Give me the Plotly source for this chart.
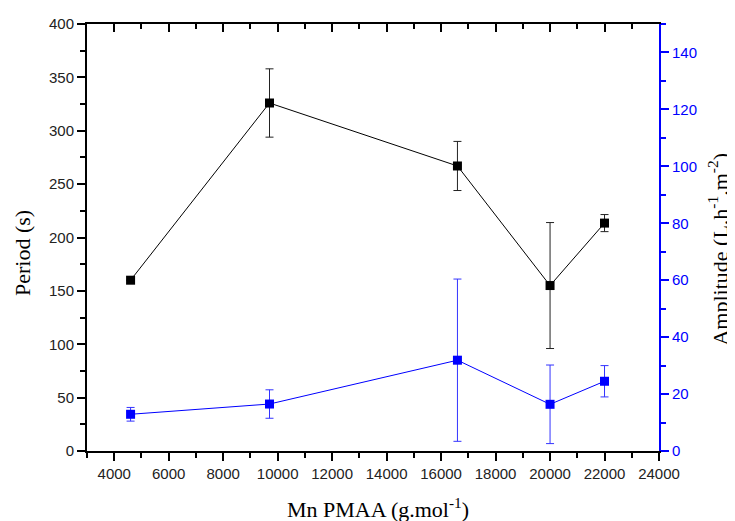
import plotly.graph_objects as go

mn = [4600, 9700, 16600, 20000, 22000]
period = [160, 326, 267, 155, 213.5]
period_err = [0, 32, 23, 59, 8]
amplitude = [12.9, 16.5, 31.9, 16.4, 24.5]
amplitude_err = [2.4, 5.0, 28.5, 13.8, 5.5]

x_ticks = list(range(4000, 24001, 2000))
x_labels = [str(v) for v in x_ticks]
left_ticks = list(range(0, 401, 50))
right_ticks = list(range(0, 141, 20))

fig = go.Figure()

fig.add_trace(go.Scatter(
    x=mn, y=period, mode="lines+markers",
    line=dict(color="black", width=1),
    marker=dict(symbol="square", size=9, color="black"),
    error_y=dict(type="data", array=period_err, color="#222222", thickness=1, width=4),
    showlegend=False, cliponaxis=False))

fig.add_trace(go.Scatter(
    x=mn, y=amplitude, mode="lines+markers", yaxis="y2",
    line=dict(color="#0000FF", width=1),
    marker=dict(symbol="square", size=9, color="#0000FF"),
    error_y=dict(type="data", array=amplitude_err, color="#3333FF", thickness=1, width=4),
    showlegend=False, cliponaxis=False))

# invisible trace to draw top axis with inward ticks
fig.add_trace(go.Scatter(x=mn, y=period, xaxis="x2", mode="markers",
                         marker=dict(opacity=0), hoverinfo="skip", showlegend=False))

tickfont = dict(family="Liberation Sans, Arial", size=15, color="#222222")
titlefont = dict(family="Liberation Serif, Times New Roman", size=22, color="black")

fig.update_layout(
    width=735, height=521,
    margin=dict(l=79, r=84, t=16, b=78, autoexpand=False),
    paper_bgcolor="white", plot_bgcolor="white",
    xaxis=dict(
        range=[3000, 24000], tickvals=x_ticks, ticktext=x_labels, ticks="outside", ticklen=8, tickwidth=1.5,
        tickcolor="black", showline=True, linecolor="black", linewidth=2,
        showgrid=False, zeroline=False, tickfont=tickfont, automargin=False,
        minor=dict(dtick=1000, tick0=3000, ticks="outside", ticklen=5, tickwidth=1.5, tickcolor="black"),
    ),
    xaxis2=dict(
        overlaying="x", side="top", anchor="y", range=[3000, 24000], tickvals=x_ticks,
        ticks="inside", ticklen=8, tickwidth=1.5, tickcolor="black",
        showticklabels=False, showline=True, linecolor="black", linewidth=2,
        showgrid=False, zeroline=False, automargin=False,
        minor=dict(dtick=1000, tick0=3000, ticks="inside", ticklen=5, tickwidth=1.5, tickcolor="black"),
    ),
    yaxis=dict(
        range=[0, 400], tickvals=left_ticks, ticks="outside", ticklen=8, tickwidth=1.5,
        tickcolor="black", showline=True, linecolor="black", linewidth=2,
        showgrid=False, zeroline=False, tickfont=tickfont, automargin=False,
        minor=dict(dtick=25, tick0=0, ticks="outside", ticklen=5, tickwidth=1.5, tickcolor="black"),
    ),
    yaxis2=dict(
        overlaying="y", side="right", range=[0, 150], tickvals=right_ticks,
        ticks="outside", ticklen=8, tickwidth=1.5, tickcolor="#0000FF",
        showline=True, linecolor="#0000FF", linewidth=2,
        showgrid=False, zeroline=False, automargin=False,
        tickfont=dict(family="Liberation Sans, Arial", size=15, color="#0000FF"),
        minor=dict(dtick=10, tick0=0, ticks="outside", ticklen=5, tickwidth=1.5, tickcolor="#0000FF"),
    ),
    annotations=[
        dict(text="Mn PMAA (g.mol<sup>-1</sup>)", xref="paper", yref="paper", x=0.509, y=-0.134,
             xanchor="center", yanchor="middle", showarrow=False, font=titlefont),
        dict(text="Period (s)", xref="paper", yref="paper", x=-0.1136, y=0.4637, textangle=-90,
             xanchor="center", yanchor="middle", showarrow=False, font=titlefont),
        dict(text="Amplitude (L.h<sup>-1</sup>.m<sup>-2</sup>)", xref="paper", yref="paper", x=1.104, y=0.473,
             textangle=-90, xanchor="center", yanchor="middle", showarrow=False, font=titlefont),
    ],
)

fig.write_html("out.html")
